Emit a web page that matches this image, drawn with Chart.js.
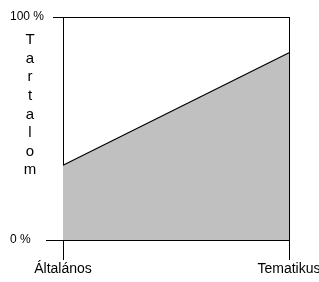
<!DOCTYPE html>
<html>
<head>
<meta charset="utf-8">
<script src="https://cdn.jsdelivr.net/npm/chart.js@4/dist/chart.umd.min.js"></script>
<style>
html,body{margin:0;padding:0;background:#fff;}
#wrap{width:319px;height:282px;}
</style>
</head>
<body>
<div id="wrap"><canvas id="c" width="319" height="282"></canvas></div>
<script>
const categories = ['Általános', 'Tematikus'];
const contentValues = [33.5, 84];
const yTickLabels = {0: '0 %', 100: '100 %'};
const yTitle = 'Tartalom';

const stackedTitle = {
  id: 'stackedTitle',
  afterDraw(chart) {
    const ctx = chart.ctx;
    const area = chart.chartArea;
    ctx.save();
    ctx.fillStyle = '#000';
    ctx.font = '15px "Liberation Sans", Arial, sans-serif';
    ctx.textAlign = 'center';
    ctx.textBaseline = 'middle';
    const letters = yTitle.split('');
    letters.forEach((ch, i) => {
      ctx.fillText(ch, 30, area.top + 23 + i * 18.6);
    });
    // longer tick at 0 %
    const y0 = chart.scales.y.getPixelForValue(0);
    ctx.strokeStyle = '#000';
    ctx.lineWidth = 1;
    ctx.beginPath();
    ctx.moveTo(area.left - 17, Math.round(y0) + 0.5);
    ctx.lineTo(area.left - 9, Math.round(y0) + 0.5);
    ctx.stroke();
    ctx.restore();
  }
};

new Chart(document.getElementById('c'), {
  type: 'line',
  data: {
    labels: categories,
    datasets: [{
      data: contentValues,
      fill: 'origin',
      backgroundColor: '#c0c0c0',
      borderColor: '#000',
      borderWidth: 1.2,
      pointRadius: 0,
      tension: 0
    }]
  },
  options: {
    responsive: false,
    animation: false,
    layout: {padding: {left: 10, right: 30, top: 17, bottom: 0}},
    plugins: {legend: {display: false}, tooltip: {enabled: false}},
    scales: {
      x: {
        type: 'category',
        offset: false,
        grid: {display: true, drawOnChartArea: true, color: '#000', tickLength: 20, lineWidth: 1},
        border: {display: true, color: '#000'},
        ticks: {color: '#000', padding: 1, autoSkip: false, maxRotation: 0,
                font: {family: '"Liberation Sans", Arial, sans-serif', size: 14}},
        afterFit(s) { s.height = 42; s.paddingLeft = 0; s.paddingRight = 0; }
      },
      y: {
        min: 0, max: 100,
        afterBuildTicks(s) { s.ticks = [{value: 0}, {value: 100}]; },
        grid: {display: true, drawOnChartArea: true, color: '#000', tickLength: 10, lineWidth: 1},
        border: {display: true, color: '#000'},
        ticks: {
          color: '#000', crossAlign: 'far', padding: 4,
          font: {family: '"Liberation Sans", Arial, sans-serif', size: 12},
          callback: (v) => yTickLabels[v]
        },
        afterFit(s) { s.width = 53; s.paddingTop = 0; s.paddingBottom = 0; }
      }
    }
  },
  plugins: [stackedTitle]
});
</script>
</body>
</html>
